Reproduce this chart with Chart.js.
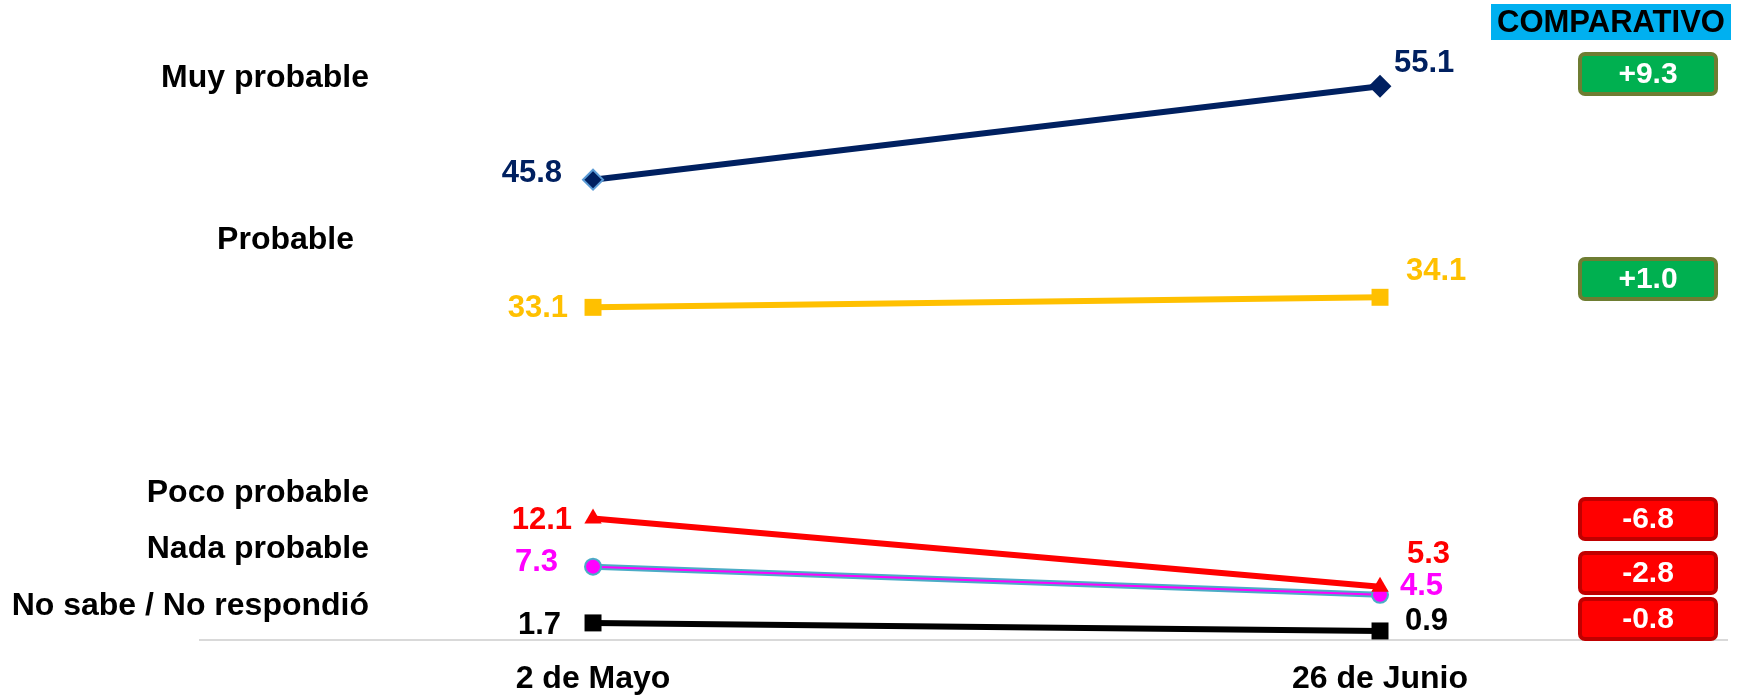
<!DOCTYPE html>
<html>
<head>
<meta charset="utf-8">
<script src="https://cdn.jsdelivr.net/npm/chart.js@4.4.1/dist/chart.umd.min.js"></script>
<style>
  html, body { margin: 0; padding: 0; background: #fff; }
  #wrap { width: 1739px; height: 695px; }
</style>
</head>
<body>
<div id="wrap"><canvas id="grafica" width="1739" height="695"></canvas></div>
<script>
// Datos
const fechas = ['2 de Mayo', '26 de Junio'];
const categorias = ['Muy probable', 'Probable', 'Poco probable', 'Nada probable', 'No sabe / No respondió'];
const muyProbable = [45.8, 55.1];
const probable = [33.1, 34.1];
const pocoProbable = [12.1, 5.3];
const nadaProbable = [7.3, 4.5];
const noSabe = [1.7, 0.9];
const series = [muyProbable, probable, pocoProbable, nadaProbable, noSabe];

// Estilos
const FUENTE = '"Liberation Sans", Arial, sans-serif';
const colores = ['#002060', '#FFC000', '#FF0000', '#FF00FF', '#000000'];
// posicion de etiquetas: [dx, dy] primer punto (a la izquierda), [dx, dy] segundo punto (a la derecha)
const desplaz = [
  [[-31, -6], [14, -23]],
  [[-25, 1], [26, -26]],
  [[-21, 2], [27, -32]],
  [[-35, -4], [20, -8]],
  [[-32, 3], [25, -10]]
];
const textoIzq = [[369, 78], [354, 240], [369, 493], [369, 549], [369, 606]];
const cajasY = [52, 257, 497, 551, 597];

const etiquetasPlugin = {
  id: 'etiquetas',
  afterDatasetsDraw(chart) {
    const ctx = chart.ctx;
    const sx = chart.scales.x, sy = chart.scales.y;
    ctx.save();
    ctx.font = 'bold 31px ' + FUENTE;
    ctx.textBaseline = 'middle';
    series.forEach((vals, s) => {
      vals.forEach((v, i) => {
        const px = sx.getPixelForValue(i), py = sy.getPixelForValue(v);
        const d = desplaz[s][i];
        ctx.fillStyle = colores[s];
        ctx.textAlign = i === 0 ? 'right' : 'left';
        ctx.fillText(v.toFixed(1), px + d[0], py + d[1]);
      });
    });
    ctx.restore();
  },
  afterDraw(chart) {
    const ctx = chart.ctx;
    ctx.save();
    // nombres de categorias
    ctx.font = 'bold 32px ' + FUENTE;
    ctx.textBaseline = 'middle';
    ctx.textAlign = 'right';
    ctx.fillStyle = '#000';
    categorias.forEach((c, i) => ctx.fillText(c, textoIzq[i][0], textoIzq[i][1]));

    // encabezado
    ctx.font = 'bold 31px ' + FUENTE;
    ctx.fillStyle = '#00B0F0';
    ctx.fillRect(1491, 4, 240, 36);
    ctx.fillStyle = '#000';
    ctx.textAlign = 'center';
    ctx.fillText('COMPARATIVO', 1611, 23);

    // cajas comparativo
    ctx.font = 'bold 30px ' + FUENTE;
    series.forEach((vals, s) => {
      const dif = vals[1] - vals[0];
      const pos = dif >= 0;
      const y = cajasY[s];
      ctx.beginPath();
      ctx.roundRect(1580, y + 2, 136, 40, 5);
      ctx.fillStyle = pos ? '#00B050' : '#FF0000';
      ctx.fill();
      ctx.lineWidth = 4;
      ctx.strokeStyle = pos ? '#6E7D32' : '#C00000';
      ctx.stroke();
      ctx.fillStyle = '#fff';
      ctx.fillText((pos ? '+' : '') + dif.toFixed(1), 1648, y + 23);
    });
    ctx.restore();
  }
};

new Chart(document.getElementById('grafica').getContext('2d'), {
  type: 'line',
  data: {
    datasets: [
      {
        label: categorias[0],
        data: muyProbable.map((v, i) => ({ x: i, y: v })),
        borderColor: colores[0],
        borderWidth: 6,
        pointStyle: 'rectRot',
        pointRadius: 10,
        pointBackgroundColor: colores[0],
        pointBorderColor: ['#5B9BD5', colores[0]],
        pointBorderWidth: 2,
        order: 1
      },
      {
        label: categorias[1],
        data: probable.map((v, i) => ({ x: i, y: v })),
        borderColor: colores[1],
        borderWidth: 6,
        pointStyle: 'rect',
        pointRadius: 12,
        pointBackgroundColor: colores[1],
        pointBorderColor: colores[1],
        pointBorderWidth: 0,
        order: 2
      },
      {
        label: categorias[2],
        data: pocoProbable.map((v, i) => ({ x: i, y: v })),
        borderColor: colores[2],
        borderWidth: 6,
        pointStyle: 'triangle',
        pointRadius: 10,
        pointBackgroundColor: colores[2],
        pointBorderColor: colores[2],
        pointBorderWidth: 0,
        order: 3
      },
      {
        label: categorias[3],
        data: nadaProbable.map((v, i) => ({ x: i, y: v })),
        borderColor: colores[3],
        borderWidth: 2,
        pointStyle: 'circle',
        pointRadius: 8,
        pointBackgroundColor: colores[3],
        pointBorderColor: '#4BACC6',
        pointBorderWidth: 2,
        order: 4
      },
      {
        label: categorias[4],
        data: noSabe.map((v, i) => ({ x: i, y: v })),
        borderColor: colores[4],
        borderWidth: 6,
        pointStyle: 'rect',
        pointRadius: 12,
        pointBackgroundColor: colores[4],
        pointBorderColor: colores[4],
        pointBorderWidth: 0,
        order: 5
      },
      {
        // contorno de Nada probable
        label: categorias[3] + ' borde',
        data: nadaProbable.map((v, i) => ({ x: i, y: v })),
        borderColor: '#4BACC6',
        borderWidth: 6,
        pointRadius: 0,
        order: 6
      }
    ]
  },
  options: {
    responsive: false,
    animation: false,
    devicePixelRatio: 1,
    layout: { padding: { top: 37, left: 200, right: 0, bottom: 0 } },
    scales: {
      x: {
        type: 'linear',
        min: -0.4994,
        max: 1.4409,
        afterBuildTicks: function(scale) {
          scale.ticks = fechas.map((f, i) => ({ value: i }));
        },
        afterFit: function(scale) {
          scale.height = 55;
        },
        ticks: {
          autoSkip: false,
          maxRotation: 0,
          padding: 20,
          color: '#000',
          font: { family: FUENTE, size: 32, weight: 'bold' },
          callback: function(value) {
            return fechas[value];
          }
        },
        grid: { display: false, drawTicks: false },
        border: { display: true, color: '#D9D9D9', width: 2 }
      },
      y: {
        display: false,
        min: 0,
        max: 60
      }
    },
    plugins: {
      legend: { display: false },
      tooltip: { enabled: false }
    }
  },
  plugins: [etiquetasPlugin]
});
</script>
</body>
</html>
